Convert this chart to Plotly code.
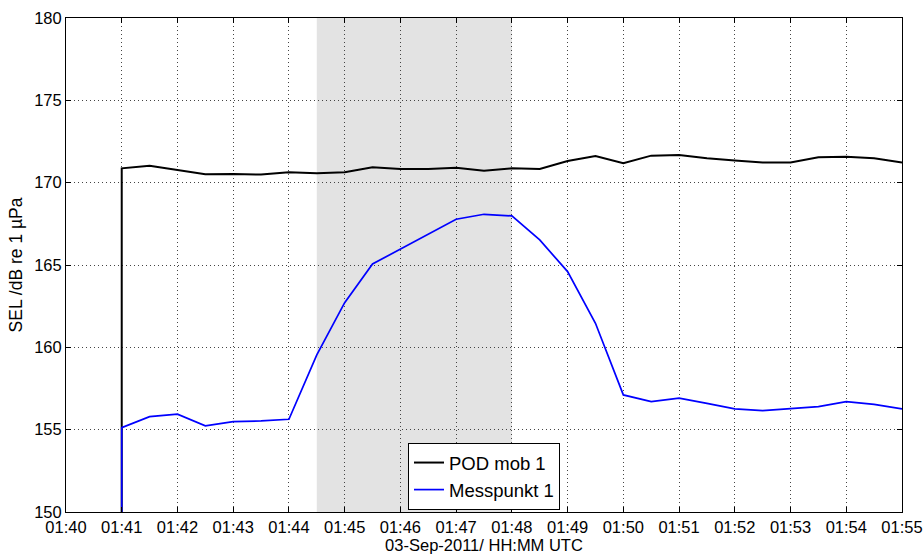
import plotly.graph_objects as go

# Sample times (30 s resolution) on 03-Sep-2011, UTC
day = "2011-09-03 "
times = ["01:41:00", "01:41:30", "01:42:00", "01:42:30", "01:43:00", "01:43:30",
         "01:44:00", "01:44:30", "01:45:00", "01:45:30", "01:46:00", "01:46:30",
         "01:47:00", "01:47:30", "01:48:00", "01:48:30", "01:49:00", "01:49:30",
         "01:50:00", "01:50:30", "01:51:00", "01:51:30", "01:52:00", "01:52:30",
         "01:53:00", "01:53:30", "01:54:00", "01:54:30", "01:55:00"]

# SEL values in dB re 1 µPa
pod_mob_1 = [170.87, 171.03, 170.77, 170.51, 170.53, 170.49, 170.63, 170.57,
             170.63, 170.93, 170.83, 170.83, 170.91, 170.73, 170.87, 170.83,
             171.32, 171.62, 171.18, 171.64, 171.68, 171.48, 171.34, 171.22,
             171.22, 171.54, 171.58, 171.48, 171.22]
messpunkt_1 = [155.12, 155.79, 155.94, 155.23, 155.49, 155.53, 155.63, 159.54,
               162.71, 165.06, 165.98, 166.88, 167.78, 168.08, 167.98, 166.52,
               164.60, 161.46, 157.11, 156.70, 156.91, 156.60, 156.26, 156.16,
               156.30, 156.40, 156.70, 156.54, 156.26]

# Recording onset (series start from the floor of the axis)
onset_time = "01:41:00"
onset_level = 150.0

# Highlighted interval
span_start = "01:44:30"
span_end = "01:48:00"

x_vals = [day + onset_time] + [day + t for t in times]

fig = go.Figure()
fig.add_trace(go.Scatter(
    x=x_vals, y=[onset_level] + pod_mob_1, mode="lines", name="POD mob 1",
    line=dict(color="black", width=2)))
fig.add_trace(go.Scatter(
    x=x_vals, y=[onset_level] + messpunkt_1, mode="lines", name="Messpunkt 1",
    line=dict(color="#0000ff", width=1.7)))

fig.add_shape(type="rect", xref="x", yref="paper",
              x0=day + span_start, x1=day + span_end, y0=0, y1=1,
              fillcolor="#e3e3e3", line=dict(width=0), layer="below")

font = "Liberation Sans, Arial, sans-serif"
axis_common = dict(
    showline=True, linecolor="black", linewidth=1, mirror="ticks",
    ticks="inside", ticklen=5, tickcolor="black",
    showgrid=True, gridcolor="#444444", griddash="1px,3px", gridwidth=1,
    zeroline=False, automargin=False,
    tickfont=dict(family=font, size=16.5, color="black"),
)

fig.update_layout(
    width=924, height=554,
    margin=dict(l=66, r=22, t=18, b=42),
    paper_bgcolor="white", plot_bgcolor="white",
    font=dict(family=font, color="black"),
    xaxis=dict(
        type="date",
        range=[day + "01:40:00", day + "01:55:00"],
        dtick=60000, tickformat="%H:%M", ticklabelstandoff=0,
        title=dict(text="03-Sep-2011/ HH:MM UTC", font=dict(size=16.5), standoff=0),
        **axis_common),
    yaxis=dict(
        range=[150, 180], dtick=5,
        title=dict(text="SEL /dB re 1 µPa", font=dict(size=17.5), standoff=7),
        **axis_common),
    legend=dict(
        x=0.5, y=0.004, xanchor="center", yanchor="bottom",
        bgcolor="white", bordercolor="black", borderwidth=1,
        font=dict(size=18.5, family=font), tracegroupgap=0,
        itemwidth=30,
    ),
)

fig.write_html("out.html")
